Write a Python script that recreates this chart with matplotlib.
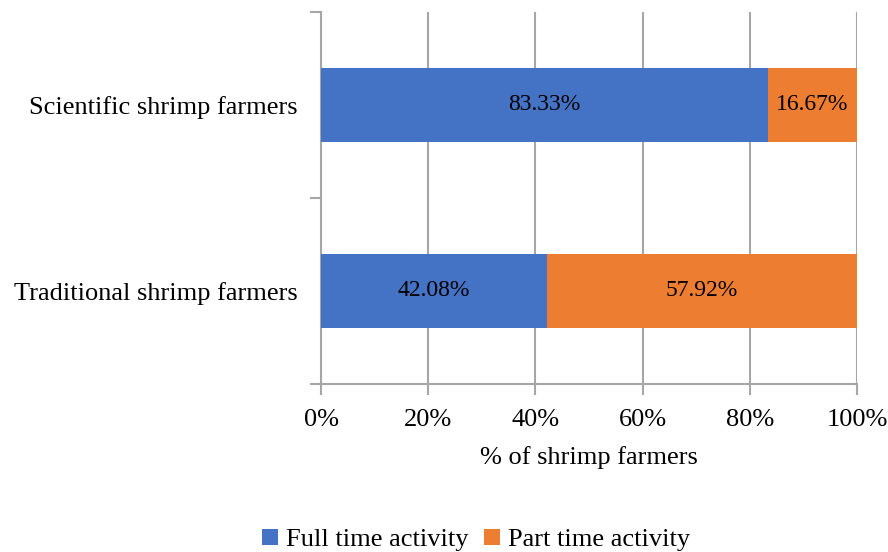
import matplotlib
matplotlib.use("Agg")
import matplotlib.pyplot as plt
from matplotlib.ticker import FixedLocator, PercentFormatter

categories = ["Traditional shrimp farmers", "Scientific shrimp farmers"]
full_time = [42.08, 83.33]
part_time = [57.92, 16.67]
series_names = ["Full time activity", "Part time activity"]
x_ticks = [0, 20, 40, 60, 80, 100]

BLUE = "#4472C4"
ORANGE = "#ED7D31"
GRID = "#A6A6A6"

plt.rcParams["font.family"] = ["Liberation Serif", "DejaVu Serif"]
plt.rcParams["font.size"] = 19

fig = plt.figure(figsize=(8.88, 5.52), dpi=100)
ax = fig.add_axes([321 / 888, 1 - 384 / 552, (857 - 321) / 888, (384 - 12) / 552])

y = list(range(len(categories)))
b1 = ax.barh(y, full_time, height=0.4, color=BLUE, label=series_names[0], zorder=3)
b2 = ax.barh(y, part_time, left=full_time, height=0.4, color=ORANGE,
             label=series_names[1], zorder=3)

for vals, lefts in ((full_time, [0] * len(full_time)), (part_time, full_time)):
    for yi, v, l in zip(y, vals, lefts):
        ax.text(l + v / 2, yi, f"{v:.2f}%", ha="center", va="center", fontsize=17,
                color="black", zorder=4)

ax.set_xlim(0, 100)
ax.set_ylim(-0.5, len(categories) - 0.5)
ax.set_xticks(x_ticks)
ax.xaxis.set_major_formatter(PercentFormatter(decimals=0))
ax.set_yticks(y)
ax.set_yticklabels(categories)
ax.yaxis.set_minor_locator(FixedLocator([-0.5, 0.5, 1.5]))

ax.tick_params(axis="y", which="major", length=0, pad=17)
ax.tick_params(axis="y", which="minor", length=8, width=1.5, color=GRID)
ax.tick_params(axis="x", which="major", length=8, width=1.5, color=GRID, pad=10)

ax.grid(axis="x", color=GRID, linewidth=1.5, zorder=0)
for side in ("top", "right"):
    ax.spines[side].set_visible(False)
for side in ("left", "bottom"):
    ax.spines[side].set_color(GRID)
    ax.spines[side].set_linewidth(1.5)

ax.set_xlabel("% of shrimp farmers", fontsize=19, labelpad=11)

fig.legend([b1, b2], series_names, loc="center", bbox_to_anchor=(476 / 888, 1 - 540 / 552),
           ncol=2, frameon=False, fontsize=19, handlelength=0.6, handleheight=0.6,
           handletextpad=0.3, columnspacing=0.6)

fig.savefig("out.png", dpi=100)
